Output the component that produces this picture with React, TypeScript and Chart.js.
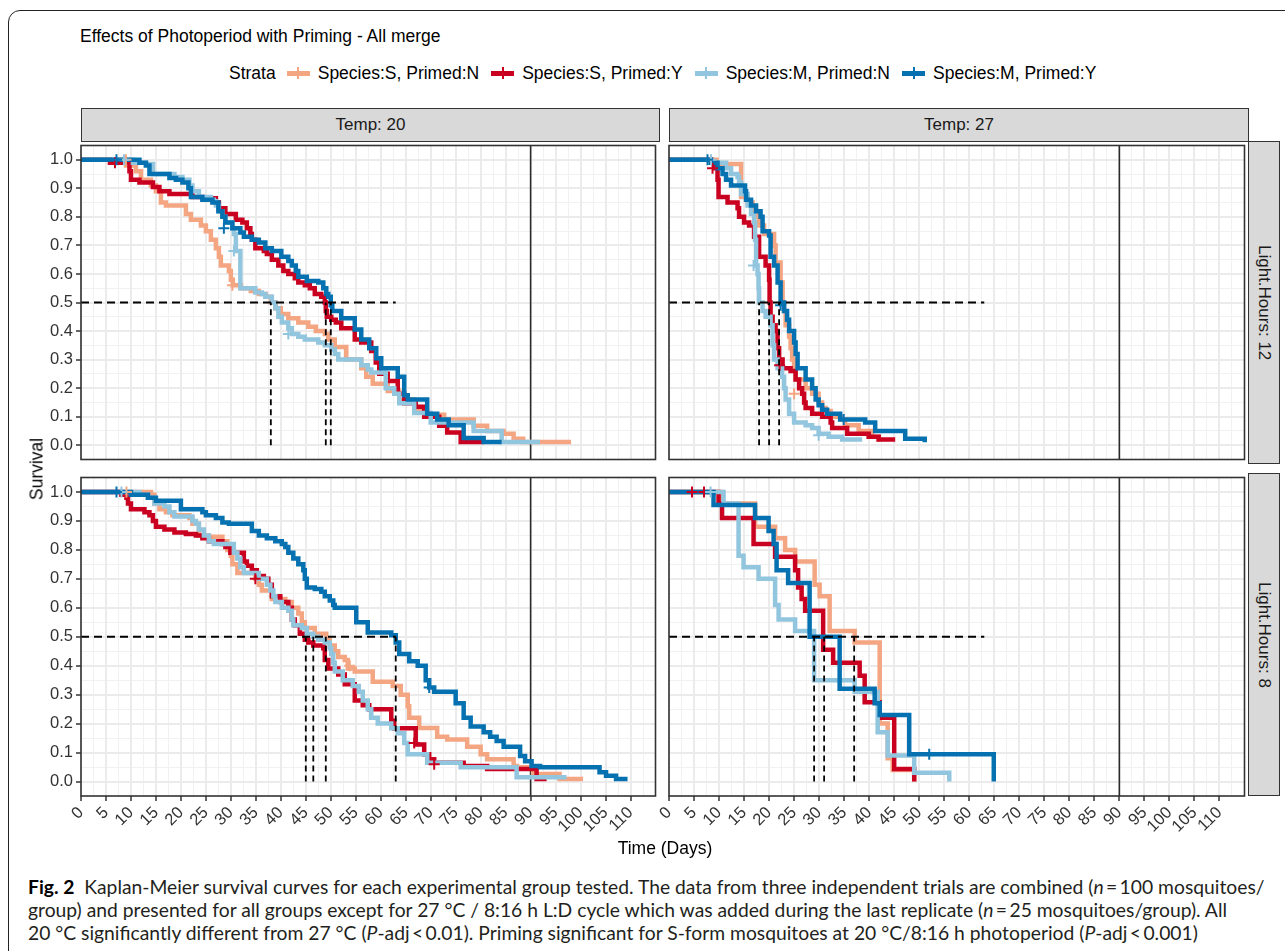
import React, { useEffect, useRef } from "react";
import { Chart, registerables } from "chart.js";
Chart.register(...registerables);

// ---------------- data ----------------
const SERIES_LABELS = ["Species:S, Primed:N", "Species:S, Primed:Y", "Species:M, Primed:N", "Species:M, Primed:Y"];
const SERIES_COLORS = ["#F4A582", "#CA0020", "#92C5DE", "#0571B0"];
const COL_STRIPS = ["Temp: 20", "Temp: 27"];
const ROW_STRIPS = ["Light.Hours: 12", "Light.Hours: 8"];

const X_TICKS = [0, 5, 10, 15, 20, 25, 30, 35, 40, 45, 50, 55, 60, 65, 70, 75, 80, 85, 90, 95, 100, 105, 110];
const X_MINOR = [2.5, 7.5, 12.5, 17.5, 22.5, 27.5, 32.5, 37.5, 42.5, 47.5, 52.5, 57.5, 62.5, 67.5, 72.5, 77.5, 82.5, 87.5, 92.5, 97.5, 102.5, 107.5, 112.5];
const Y_TICKS = [0, 0.1, 0.2, 0.3, 0.4, 0.5, 0.6, 0.7, 0.8, 0.9, 1.0];
const Y_MINOR = [0.05, 0.15, 0.25, 0.35, 0.45, 0.55, 0.65, 0.75, 0.85, 0.95];
const X_MIN = 0, X_MAX = 115, Y_MIN = -0.05, Y_MAX = 1.05;
const REF_DAY = 90;
const MEDIAN_LINE_END = 63;

// Temp 20, Light 12
const T20_L12_SN = [[0,1],[9,0.98],[11,0.96],[12,0.93],[14,0.91],[15,0.89],[16,0.85],[17,0.84],[21,0.81],[22,0.79],[24,0.77],[25,0.75],[26,0.72],[27,0.69],[27.6,0.66],[28,0.63],[29.6,0.61],[30,0.58],[30.4,0.56],[32,0.55],[34,0.54],[35.6,0.53],[37,0.52],[38,0.5],[39,0.48],[40,0.46],[41.5,0.445],[43.5,0.43],[45.5,0.415],[47,0.4],[48.8,0.39],[49.5,0.37],[50.8,0.344],[53.1,0.3],[56.1,0.27],[57.1,0.24],[58.4,0.215],[61.4,0.19],[63.7,0.16],[66.7,0.12],[69.3,0.107],[72.7,0.09],[78.6,0.068],[81.3,0.05],[84.6,0.04],[86.6,0.023],[88.5,0.011],[98.1,0.011]];
const T20_L12_SY = [[0,1],[5.8,0.99],[9.7,0.96],[10,0.93],[11.7,0.92],[14.4,0.905],[15.7,0.89],[17.7,0.88],[22.3,0.87],[24.3,0.865],[27,0.85],[27.6,0.83],[28.9,0.81],[31,0.79],[32.3,0.78],[33.2,0.76],[33.9,0.74],[34.2,0.72],[34.9,0.69],[36.6,0.68],[37.2,0.67],[38.2,0.65],[39.5,0.63],[40.5,0.61],[41.5,0.6],[42.8,0.585],[43.5,0.57],[44.8,0.56],[45.8,0.55],[46.8,0.53],[48.1,0.52],[48.8,0.5],[49,0.47],[49.2,0.45],[50.1,0.44],[51,0.43],[52.1,0.41],[54.8,0.37],[56.1,0.36],[58.1,0.33],[59,0.29],[59.7,0.25],[61.4,0.225],[63.4,0.18],[64.7,0.147],[67,0.135],[68.7,0.1],[71.7,0.068],[73.3,0.045],[76,0.011],[80.6,0.011]];
const T20_L12_MN = [[0,1],[10.4,0.99],[13,0.985],[14.4,0.95],[18.7,0.94],[20.3,0.93],[21.7,0.91],[22.3,0.89],[23.6,0.87],[26,0.86],[26.6,0.855],[27,0.84],[27.6,0.82],[28.3,0.8],[28.9,0.78],[30.3,0.76],[30.6,0.74],[31,0.68],[31.9,0.55],[34.9,0.535],[36.2,0.53],[36.9,0.52],[38.2,0.5],[38.9,0.48],[39.5,0.45],[40.2,0.43],[41.5,0.41],[42.2,0.39],[43.5,0.38],[44.8,0.37],[47.5,0.36],[48.8,0.35],[50.1,0.335],[50.8,0.32],[51.5,0.3],[56.1,0.28],[57.4,0.265],[58.1,0.255],[61,0.2],[62.7,0.18],[63.7,0.147],[66.7,0.113],[70,0.08],[78.6,0.05],[84.2,0.011],[91.9,0.011]];
const T20_L12_MY = [[0,1],[11.7,0.99],[13,0.98],[13.7,0.95],[17.7,0.936],[19,0.93],[20.3,0.92],[21.5,0.9],[22,0.87],[24.3,0.86],[26.3,0.85],[27.5,0.82],[28.3,0.8],[28.9,0.78],[30.3,0.76],[31.9,0.745],[32.6,0.73],[34.2,0.72],[35.6,0.71],[36.9,0.69],[38.2,0.68],[40.1,0.66],[41.5,0.645],[42.2,0.63],[43,0.61],[43.5,0.59],[45.2,0.575],[47.5,0.57],[48.5,0.55],[49.1,0.53],[49.5,0.52],[50,0.49],[50.3,0.47],[52.1,0.445],[54.8,0.405],[56.1,0.37],[57.7,0.34],[59.1,0.305],[60.1,0.27],[63.4,0.24],[64.7,0.175],[65.4,0.16],[69.3,0.11],[71.3,0.09],[73.6,0.07],[76.6,0.025],[80.6,0.011],[84.2,0.011]];

// Temp 27, Light 12
const T27_L12_SN = [[0,1],[9.5,0.985],[14.4,0.87],[15.7,0.85],[16.7,0.82],[17.7,0.8],[18,0.77],[19,0.74],[21,0.7],[21.3,0.64],[22.3,0.57],[22.7,0.5],[23,0.47],[23.3,0.42],[24,0.38],[24.3,0.34],[24.6,0.3],[25,0.27],[25.3,0.23],[27.3,0.2],[28.6,0.18],[29.9,0.15],[30.6,0.13],[31.3,0.12],[32.3,0.1],[34.6,0.09],[35.2,0.07],[37.9,0.05],[40.6,0.03],[41.9,0.02],[42.5,0.02]];
const T27_L12_SY = [[0,1],[8.4,0.99],[9.1,0.97],[9.7,0.93],[9.9,0.87],[11.7,0.85],[13.7,0.83],[14,0.8],[15,0.78],[16,0.77],[17,0.73],[18,0.66],[19.3,0.63],[20,0.58],[20.1,0.5],[20.3,0.45],[20.7,0.42],[21.3,0.4],[21.7,0.34],[22,0.3],[22.7,0.27],[24.3,0.26],[25.3,0.23],[26,0.2],[26.6,0.18],[27,0.15],[27.3,0.13],[28.6,0.11],[30.6,0.1],[32.3,0.08],[32.6,0.06],[35.6,0.04],[39.9,0.03],[41.9,0.02],[45.2,0.02]];
const T27_L12_MN = [[0,1],[8.1,0.99],[11.4,0.97],[12.4,0.95],[13.7,0.94],[14,0.92],[14.4,0.88],[15.7,0.84],[16.4,0.81],[17,0.78],[17.2,0.72],[17.4,0.63],[17.7,0.6],[17.9,0.55],[18,0.5],[18.7,0.47],[19.3,0.45],[20.3,0.42],[20.7,0.35],[21,0.3],[21.7,0.27],[22.6,0.24],[23,0.2],[23.3,0.16],[24,0.11],[25,0.08],[27.3,0.07],[28.6,0.06],[29.9,0.04],[31.9,0.03],[34.6,0.02],[38.6,0.02]];
const T27_L12_MY = [[0,1],[8.4,0.99],[9.7,0.97],[10.7,0.95],[11.4,0.93],[12.4,0.91],[15.2,0.89],[15.4,0.86],[16.4,0.84],[17.4,0.82],[18.3,0.8],[18.7,0.75],[20,0.735],[20.3,0.66],[21,0.63],[21.7,0.57],[22.3,0.5],[23,0.47],[23.6,0.44],[24,0.4],[25,0.36],[25.3,0.32],[25.7,0.27],[27.3,0.23],[28.6,0.2],[29.3,0.16],[29.9,0.14],[30.6,0.124],[31.6,0.11],[34.2,0.09],[39.2,0.08],[41.2,0.05],[47.2,0.023],[51.1,0.01]];

// Temp 20, Light 8
const T20_L8_SN = [[0,1],[14,0.99],[14.7,0.96],[15.7,0.94],[17,0.93],[18.3,0.92],[21.7,0.91],[22.3,0.89],[23.6,0.85],[25.6,0.845],[28.3,0.83],[29.3,0.8],[30,0.78],[30.3,0.75],[31.3,0.72],[34.9,0.7],[35.6,0.68],[36.2,0.66],[38.2,0.63],[40.9,0.62],[42.2,0.6],[43.5,0.58],[44.2,0.55],[44.8,0.53],[46.8,0.51],[49.1,0.49],[49.8,0.47],[50.8,0.45],[51.5,0.43],[52.8,0.42],[53.4,0.39],[54.8,0.38],[58.4,0.345],[62.4,0.33],[64,0.3],[65.4,0.26],[65.7,0.22],[67.7,0.185],[71.3,0.155],[73.3,0.145],[77.3,0.12],[80,0.094],[81.3,0.077],[86.6,0.054],[87.2,0.049],[90.5,0.026],[95.8,0.009],[100.5,0.009]];
const T20_L8_SY = [[0,1],[8.1,0.99],[9.1,0.98],[9.4,0.96],[10,0.94],[12.7,0.93],[13.7,0.92],[14.4,0.9],[15,0.88],[16.7,0.87],[18.7,0.86],[21,0.855],[23,0.85],[24.3,0.84],[25.6,0.83],[28.3,0.82],[28.9,0.81],[29.9,0.79],[32.6,0.76],[33.2,0.745],[34.2,0.73],[35.2,0.71],[36.6,0.7],[37.5,0.68],[38.2,0.64],[39.9,0.62],[41.5,0.6],[42.2,0.56],[42.8,0.54],[43.8,0.51],[44.8,0.49],[45.5,0.48],[46.5,0.47],[48.5,0.46],[48.8,0.42],[49.5,0.39],[51.5,0.37],[52.8,0.336],[54.8,0.28],[56.4,0.263],[57.7,0.25],[62.1,0.21],[62.7,0.184],[67,0.128],[68.7,0.094],[69.7,0.077],[70.7,0.065],[76.6,0.054],[81.3,0.043],[91.2,0.009],[93.2,0.009]];
const T20_L8_MN = [[0,1],[11.7,0.99],[13.4,0.98],[14.7,0.96],[16.7,0.95],[17.7,0.93],[18.7,0.915],[22.3,0.9],[23,0.89],[23.6,0.87],[24.6,0.85],[25.6,0.83],[26.6,0.82],[30.6,0.79],[31.3,0.77],[31.9,0.74],[32.6,0.72],[35.6,0.7],[37.2,0.68],[37.9,0.66],[38.5,0.64],[38.9,0.62],[40.2,0.6],[41.5,0.59],[42.2,0.56],[42.5,0.54],[44.2,0.53],[45.2,0.51],[46.5,0.5],[47.5,0.49],[48.8,0.48],[49.8,0.46],[50.1,0.44],[50.5,0.41],[50.8,0.38],[52.4,0.35],[54.4,0.33],[55.6,0.31],[56.4,0.28],[57.4,0.25],[58.1,0.22],[59.4,0.2],[62.1,0.184],[63.4,0.167],[64.7,0.133],[65.4,0.094],[69.3,0.065],[76,0.049],[87.2,0.015],[97.2,0.015]];
const T20_L8_MY = [[0,1],[10,0.99],[13.4,0.98],[15,0.97],[20,0.94],[24.3,0.93],[25,0.92],[27,0.91],[28.3,0.895],[29.6,0.89],[34.2,0.865],[35.6,0.85],[37.2,0.84],[38.9,0.83],[40.2,0.82],[40.9,0.81],[41.5,0.79],[42.5,0.77],[43.5,0.75],[44.5,0.73],[44.8,0.7],[45.2,0.67],[46.8,0.665],[48.1,0.655],[48.8,0.64],[49.8,0.625],[50.5,0.61],[50.8,0.6],[55.1,0.55],[57.4,0.515],[62.1,0.505],[63,0.48],[63.7,0.44],[65.7,0.415],[67.4,0.4],[69,0.35],[69.7,0.325],[70.7,0.31],[75,0.27],[76.6,0.22],[78,0.19],[80.6,0.17],[81.9,0.155],[83.2,0.14],[84.6,0.12],[87.9,0.088],[88.9,0.07],[90.2,0.054],[91.9,0.049],[103.8,0.032],[105.1,0.02],[107.1,0.009],[109.4,0.009]];

// Temp 27, Light 8
const T27_L8_SN = [[0,1],[10.6,0.96],[17.2,0.88],[21.2,0.84],[23.2,0.8],[25.2,0.76],[29.1,0.68],[30.1,0.64],[32.1,0.52],[37.1,0.48],[42.1,0.2],[43.7,0.08],[44.7,0.04],[49,0]];
const T27_L8_SY = [[0,1],[9.9,0.96],[10.6,0.91],[16.9,0.82],[21.2,0.776],[25.2,0.73],[25.8,0.67],[26.5,0.63],[27.2,0.59],[30.8,0.455],[32.8,0.41],[38.1,0.365],[39.1,0.274],[42.1,0.22],[45,0.043],[49,0]];
const T27_L8_MN = [[0,1],[10.9,0.96],[13.9,0.78],[14.9,0.74],[17.9,0.7],[21.2,0.61],[21.9,0.56],[25.2,0.52],[29,0.35],[37.1,0.31],[41.7,0.17],[43.7,0.09],[49,0.03],[56,0]];
const T27_L8_MY = [[0,1],[8.9,0.955],[17.2,0.91],[19.9,0.865],[20.9,0.82],[21.5,0.73],[23.8,0.686],[28.1,0.5],[34.1,0.32],[41.1,0.27],[42.1,0.23],[48,0.094],[64.9,0]];

// censoring marks (+)
const T20_L12_CENS = [[[9,1],[30.3,0.56]], [[6.8,0.99]], [[8.6,1],[30.6,0.68],[41.5,0.39]], [[7.1,1],[28.6,0.76]]];
const T27_L12_CENS = [[[25,0.18]], [[8.7,0.97],[22.1,0.28]], [[8.4,1],[16.9,0.63],[29.9,0.035]], [[7.7,1],[22.3,0.49],[34.9,0.09]]];
const T20_L8_CENS = [[[9.1,1],[53.8,0.4]], [[34.9,0.7],[66.7,0.133],[70.7,0.06]], [[8.1,1]], [[7.1,1],[69.7,0.325]]];
const T27_L8_CENS = [[], [[4.6,1],[7,1]], [[8.3,1]], [[52,0.094]]];

// median survival times (dashed guides)
const T20_L12_MEDIANS = [38, 49, 50];
const T27_L12_MEDIANS = [18, 20, 22];
const T20_L8_MEDIANS = [45, 46.5, 49, 63];
const T27_L8_MEDIANS = [29, 31, 37];

// ---------------- styling ----------------
const SANS = "'Liberation Sans', Arial, Helvetica, sans-serif";
const TICK_FONT = { family: SANS, size: 16.5 };
const TICK_COLOR = "#333333";
const MAJOR_GRID = "#EBEBEB";
const MINOR_GRID = "#F1F1F1";
const PANEL_W_L = 579, PANEL_W_R = 580, PANEL_H = 323;
const X_AXIS_H = 70;

const panelBorder = {
  id: "panelBorder",
  afterDatasetsDraw(chart: any) {
    const { ctx, chartArea } = chart;
    ctx.save();
    ctx.strokeStyle = "#333333";
    ctx.lineWidth = 1.6;
    ctx.strokeRect(chartArea.left, chartArea.top, chartArea.right - chartArea.left, chartArea.bottom - chartArea.top);
    ctx.restore();
  },
};

type Spec = {
  id: string;
  cl: number; ct: number; cw: number; ch: number;
  pad: { left: number; top: number; right: number; bottom: number };
  showX: boolean; showY: boolean; yAxisW: number;
  series: number[][][]; cens: number[][][]; medians: number[];
};

function buildConfig(s: Spec): any {
  const datasets: any[] = [];
  datasets.push({
    data: [{ x: REF_DAY, y: Y_MIN }, { x: REF_DAY, y: Y_MAX }],
    borderColor: "#2a2a2a", borderWidth: 1.6, pointRadius: 0, order: 100,
  });
  s.series.forEach((pts, i) => {
    datasets.push({
      label: SERIES_LABELS[i],
      data: pts.map(([x, y]) => ({ x, y })),
      stepped: "before",
      borderColor: SERIES_COLORS[i], borderWidth: 4.5, pointRadius: 0,
      borderJoinStyle: "miter", borderCapStyle: "butt", fill: false, order: 50 - i,
    });
  });
  s.cens.forEach((pts, i) => {
    datasets.push({
      data: pts.map(([x, y]) => ({ x, y })),
      showLine: false, pointStyle: "cross", pointRadius: 5.5, pointBorderWidth: 2,
      pointBorderColor: SERIES_COLORS[i], borderColor: SERIES_COLORS[i], order: 30 - i,
    });
  });
  datasets.push({
    data: [{ x: 0, y: 0.5 }, { x: MEDIAN_LINE_END, y: 0.5 }],
    borderColor: "#000", borderWidth: 2.2, borderDash: [8, 5], pointRadius: 0, order: 1,
  });
  s.medians.forEach((m) => {
    datasets.push({
      data: [{ x: m, y: 0 }, { x: m, y: 0.5 }],
      borderColor: "#000", borderWidth: 1.8, borderDash: [6, 4], pointRadius: 0, order: 1,
    });
  });

  const minorX = {
    type: "linear", min: X_MIN, max: X_MAX, position: "bottom",
    afterBuildTicks: (sc: any) => { sc.ticks = X_MINOR.map((v) => ({ value: v })); },
    afterFit: (sc: any) => { sc.height = 0; sc.paddingLeft = 0; sc.paddingRight = 0; },
    ticks: { display: false },
    grid: { color: MINOR_GRID, lineWidth: 1, drawTicks: false, z: -2 },
    border: { display: false },
  };
  const minorY = {
    type: "linear", min: Y_MIN, max: Y_MAX, position: "left",
    afterBuildTicks: (sc: any) => { sc.ticks = Y_MINOR.map((v) => ({ value: v })); },
    afterFit: (sc: any) => { sc.width = 0; sc.paddingTop = 0; sc.paddingBottom = 0; },
    ticks: { display: false },
    grid: { color: MINOR_GRID, lineWidth: 1, drawTicks: false, z: -2 },
    border: { display: false },
  };
  const majorX = {
    type: "linear", min: X_MIN, max: X_MAX, position: "bottom",
    afterBuildTicks: (sc: any) => { sc.ticks = X_TICKS.map((v) => ({ value: v })); },
    afterFit: (sc: any) => { sc.height = s.showX ? X_AXIS_H : 0; sc.paddingLeft = 0; sc.paddingRight = 0; },
    ticks: {
      display: s.showX, autoSkip: false, minRotation: 45, maxRotation: 45, padding: 2,
      font: TICK_FONT, color: TICK_COLOR, callback: (v: any) => String(v),
    },
    grid: { color: MAJOR_GRID, lineWidth: 2, drawTicks: s.showX, tickLength: 5, tickColor: "#333333", tickWidth: 1.5, z: -1 },
    border: { display: false },
  };
  const majorY = {
    type: "linear", min: Y_MIN, max: Y_MAX, position: "left",
    afterBuildTicks: (sc: any) => { sc.ticks = Y_TICKS.map((v) => ({ value: v })); },
    afterFit: (sc: any) => { sc.width = s.showY ? s.yAxisW : 0; sc.paddingTop = 0; sc.paddingBottom = 0; },
    ticks: {
      display: s.showY, padding: 3, font: TICK_FONT, color: TICK_COLOR,
      callback: (v: any) => Number(v).toFixed(1),
    },
    grid: { color: MAJOR_GRID, lineWidth: 2, drawTicks: s.showY, tickLength: 5, tickColor: "#333333", tickWidth: 1.5, z: -1 },
    border: { display: false },
  };

  return {
    type: "line",
    data: { datasets },
    plugins: [panelBorder],
    options: {
      animation: false,
      responsive: false,
      devicePixelRatio: 1,
      events: [],
      layout: { padding: s.pad },
      plugins: { legend: { display: false }, tooltip: { enabled: false }, title: { display: false } },
      scales: { xMinor: minorX, yMinor: minorY, x: majorX, y: majorY },
    },
  };
}

const SPECS: Spec[] = [
  { id: "tl", cl: 0, ct: 138, cw: 663, ch: 329, pad: { left: 0, top: 3, right: 3, bottom: 3 }, showX: false, showY: true, yAxisW: 81,
    series: [T20_L12_SN, T20_L12_SY, T20_L12_MN, T20_L12_MY], cens: T20_L12_CENS, medians: T20_L12_MEDIANS },
  { id: "tr", cl: 639, ct: 138, cw: 613, ch: 329, pad: { left: 30, top: 3, right: 3, bottom: 3 }, showX: false, showY: false, yAxisW: 0,
    series: [T27_L12_SN, T27_L12_SY, T27_L12_MN, T27_L12_MY], cens: T27_L12_CENS, medians: T27_L12_MEDIANS },
  { id: "bl", cl: 0, ct: 470, cw: 663, ch: 3 + PANEL_H + X_AXIS_H, pad: { left: 0, top: 3, right: 3, bottom: 0 }, showX: true, showY: true, yAxisW: 81,
    series: [T20_L8_SN, T20_L8_SY, T20_L8_MN, T20_L8_MY], cens: T20_L8_CENS, medians: T20_L8_MEDIANS },
  { id: "br", cl: 639, ct: 470, cw: 613, ch: 3 + PANEL_H + X_AXIS_H, pad: { left: 30, top: 3, right: 3, bottom: 0 }, showX: true, showY: false, yAxisW: 0,
    series: [T27_L8_SN, T27_L8_SY, T27_L8_MN, T27_L8_MY], cens: T27_L8_CENS, medians: T27_L8_MEDIANS },
];

function Panel({ spec }: { spec: Spec }) {
  const ref = useRef<HTMLCanvasElement>(null);
  useEffect(() => {
    const chart = new Chart(ref.current as HTMLCanvasElement, buildConfig(spec));
    return () => chart.destroy();
  }, [spec]);
  return (
    <canvas
      ref={ref}
      width={spec.cw}
      height={spec.ch}
      style={{ position: "absolute", left: spec.cl, top: spec.ct, width: spec.cw, height: spec.ch }}
    />
  );
}

function LegendKey({ color }: { color: string }) {
  return (
    <span style={{ position: "relative", display: "inline-block", width: 23, height: 12, marginRight: 8 }}>
      <span style={{ position: "absolute", left: 0, top: 4, width: 23, height: 4.5, background: color }} />
      <span style={{ position: "absolute", left: 10.5, top: 0, width: 2, height: 12, background: color }} />
    </span>
  );
}

const stripBase: React.CSSProperties = {
  position: "absolute", boxSizing: "border-box", background: "#D9D9D9", border: "1.6px solid #333333",
  display: "flex", alignItems: "center", justifyContent: "center", color: "#1A1A1A", fontSize: 17,
};

export default function App() {
  return (
    <div style={{ position: "absolute", left: 0, top: 0, width: 1285, height: 951, overflow: "hidden", background: "#fff", fontFamily: SANS }}>
      <div style={{ position: "absolute", left: 8, top: 10, width: 1300, height: 970, boxSizing: "border-box", border: "1.5px solid #222", borderRadius: 12 }} />

      <div style={{ position: "absolute", left: 80, top: 26, fontSize: 17.5, color: "#000", whiteSpace: "nowrap" }}>
        Effects of Photoperiod with Priming - All merge
      </div>

      <div style={{ position: "absolute", left: 229, top: 62, height: 22, display: "flex", alignItems: "center", fontSize: 17.5, color: "#000", whiteSpace: "nowrap" }}>
        <span style={{ marginRight: 11 }}>Strata</span>
        {SERIES_LABELS.map((lab, i) => (
          <span key={lab} style={{ display: "inline-flex", alignItems: "center", marginRight: 12 }}>
            <LegendKey color={SERIES_COLORS[i]} />
            <span>{lab}</span>
          </span>
        ))}
      </div>

      <div style={{ ...stripBase, left: 81, top: 108, width: PANEL_W_L, height: 34 }}>{COL_STRIPS[0]}</div>
      <div style={{ ...stripBase, left: 669, top: 108, width: PANEL_W_R, height: 34 }}>{COL_STRIPS[1]}</div>
      <div style={{ ...stripBase, left: 1248, top: 141, width: 32, height: PANEL_H }}>
        <span style={{ writingMode: "vertical-rl" }}>{ROW_STRIPS[0]}</span>
      </div>
      <div style={{ ...stripBase, left: 1248, top: 473, width: 32, height: PANEL_H }}>
        <span style={{ writingMode: "vertical-rl" }}>{ROW_STRIPS[1]}</span>
      </div>

      {SPECS.map((s) => <Panel key={s.id} spec={s} />)}

      <div style={{ position: "absolute", left: 0, width: 1330, top: 838, textAlign: "center", fontSize: 17.5, color: "#000" }}>
        Time (Days)
      </div>
      <div style={{ position: "absolute", left: 37, top: 469, width: 0, height: 0 }}>
        <div style={{ position: "absolute", transform: "translate(-50%, -50%) rotate(-90deg)", fontSize: 17.5, color: "#000", whiteSpace: "nowrap" }}>
          Survival
        </div>
      </div>

      <div style={{ position: "absolute", left: 28, top: 875, fontFamily: "Lato, 'Open Sans', sans-serif", fontSize: 19.3, lineHeight: "23px", color: "#231F20", whiteSpace: "nowrap" }}>
        <div><b style={{ color: "#000" }}>Fig. 2</b>&nbsp; Kaplan-Meier survival curves for each experimental group tested. The data from three independent trials are combined (<i>n</i>&#8201;=&#8201;100 mosquitoes/</div>
        <div>group) and presented for all groups except for 27 °C / 8:16 h L:D cycle which was added during the last replicate (<i>n</i>&#8201;=&#8201;25 mosquitoes/group). All</div>
        <div>20 °C significantly different from 27 °C (<i>P</i>-adj&#8201;&lt;&#8201;0.01). Priming significant for S-form mosquitoes at 20 °C/8:16 h photoperiod (<i>P</i>-adj&#8201;&lt;&#8201;0.001)</div>
      </div>
    </div>
  );
}
